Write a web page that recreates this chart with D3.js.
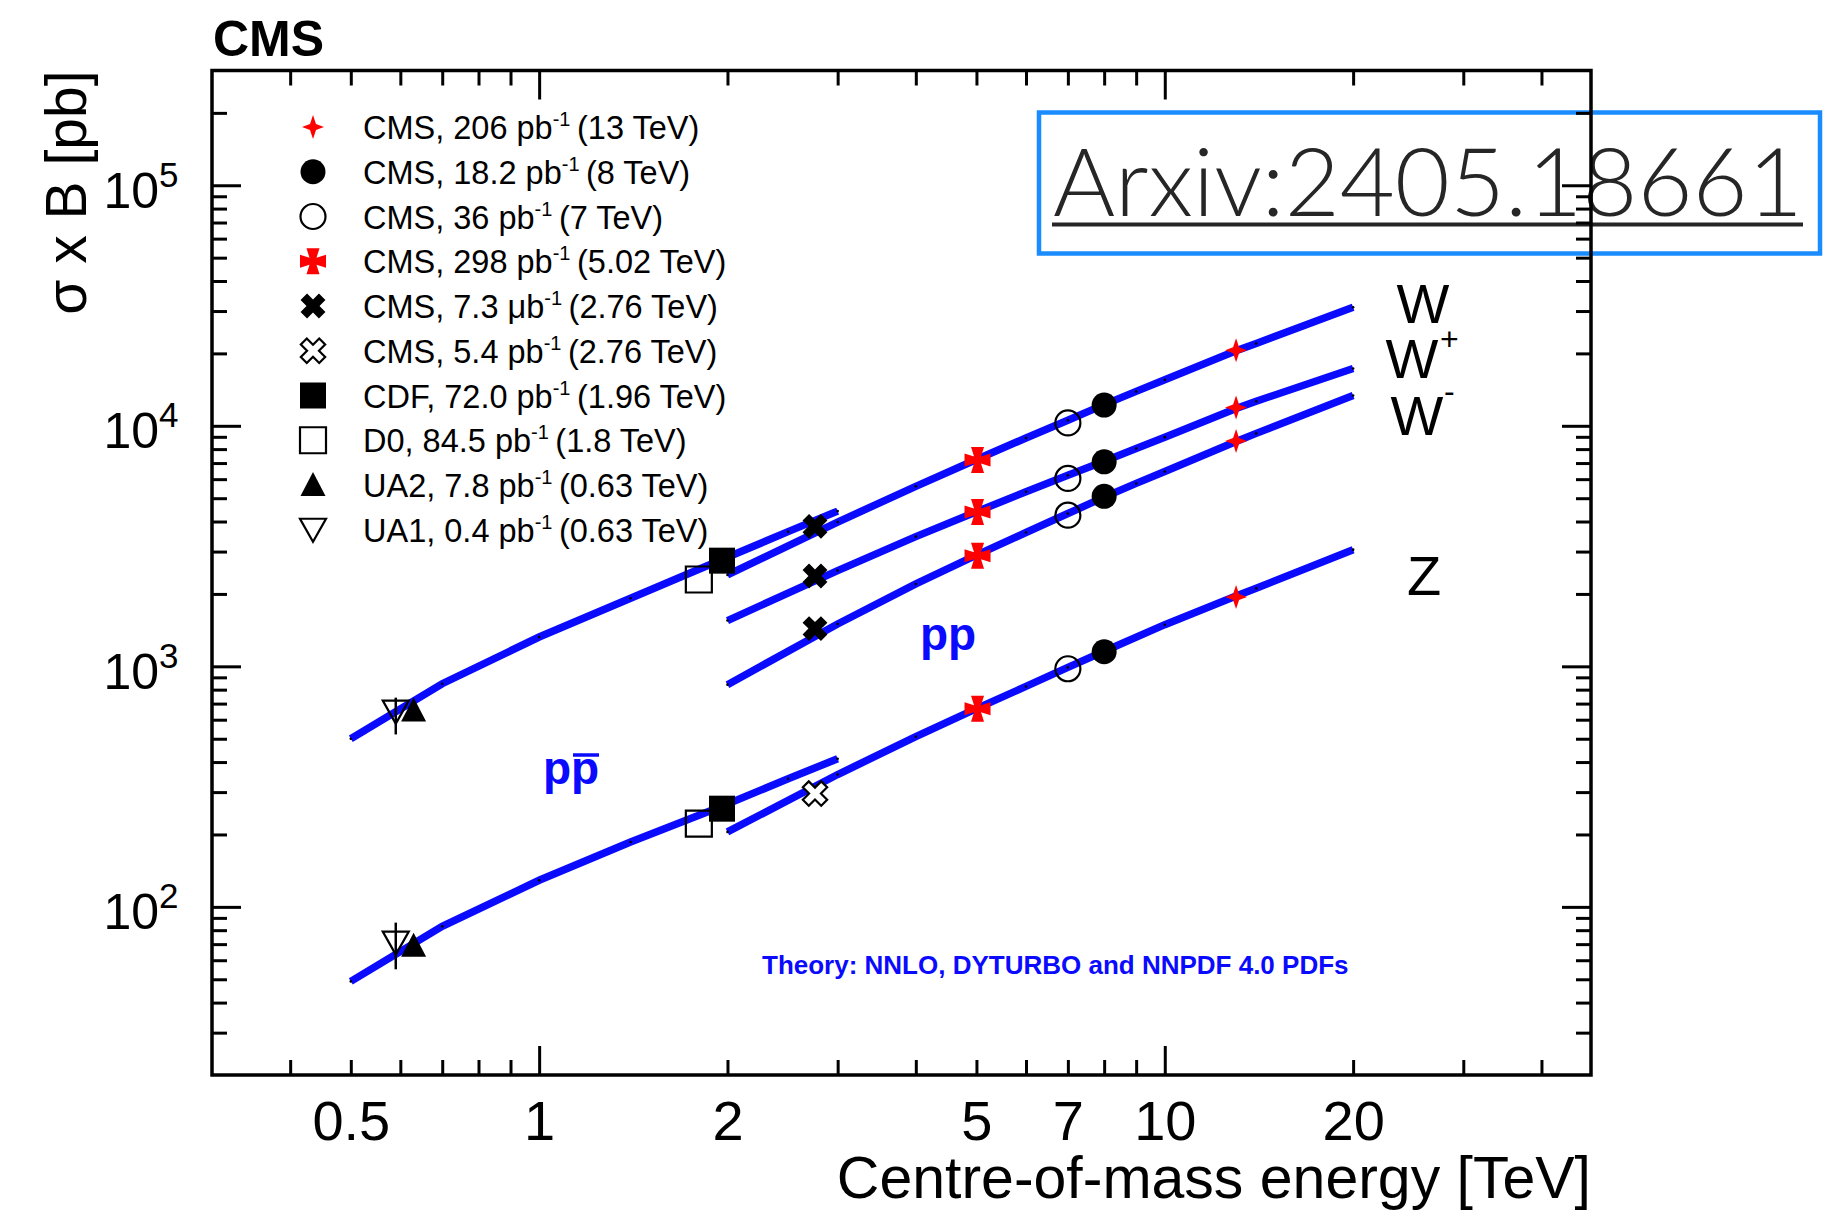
<!DOCTYPE html>
<html>
<head>
<meta charset="utf-8">
<script src="https://cdn.jsdelivr.net/npm/d3@7"></script>
<style>
  body { margin: 0; background: #fff; }
  svg { display: block; font-family: "Liberation Sans", Arial, sans-serif; }
</style>
</head>
<body>
<svg id="chart" width="1845" height="1210"></svg>
<script>
// ---- data ----
const xTickLabels = [0.5, 1, 2, 5, 7, 10, 20];
const yTickLabels = [1e2, 1e3, 1e4, 1e5];

// theory curves (NNLO), p-pbar
const ppbarEnergy = [0.5, 0.7, 1.0, 1.4, 1.96, 2.5, 3.0];
const thW_ppbar = [500, 847, 1324, 1920, 2780, 3630, 4420];
const thZ_ppbar = [49, 83, 129, 186, 262, 341, 413];

// theory curves, pp
const ppEnergy = [2, 3, 4, 5, 6, 7, 8, 9, 10, 13, 14, 20];
const thW_pp = [2400, 3980, 5600, 7240, 8900, 10550, 12250, 13900, 15550, 20500, 22000, 31100];
const thWp_pp = [1550, 2500, 3460, 4390, 5320, 6230, 7130, 8050, 8970, 11800, 12650, 17300];
const thWm_pp = [839, 1500, 2200, 2900, 3600, 4320, 5050, 5760, 6460, 8600, 9300, 13370];
const zEnergy = [2, 3, 4, 5, 6, 7, 8, 10, 13, 14, 20];
const thZ_pp = [205, 355, 510, 667, 825, 990, 1155, 1490, 1960, 2110, 3055];

// measurements (one entry per legend row)
const legendPrefix = ["CMS, 206 pb", "CMS, 18.2 pb", "CMS, 36 pb", "CMS, 298 pb", "CMS, 7.3 \u03BCb",
                      "CMS, 5.4 pb", "CDF, 72.0 pb", "D0, 84.5 pb", "UA2, 7.8 pb", "UA1, 0.4 pb"];
const legendSuffix = ["(13 TeV)", "(8 TeV)", "(7 TeV)", "(5.02 TeV)", "(2.76 TeV)",
                      "(2.76 TeV)", "(1.96 TeV)", "(1.8 TeV)", "(0.63 TeV)", "(0.63 TeV)"];
const measE  = [13, 8, 7, 5.02, 2.76, 2.76, 1.96, 1.8, 0.63, 0.59];
const measW  = [20600, 12190, 10280, 7210, 3820, null, 2750, 2296, 656, 648];
const measWp = [11910, 7080, 6040, 4385, 2375, null, null, null, null, null];
const measWm = [8650, 5090, 4250, 2880, 1435, null, null, null, null, null];
const measZ  = [1940, 1150, 977, 667, null, 296, 256, 222, 69, 71];
const ua1ErrW = [521, 741];
const ua1ErrZ = [55, 86];

// ---- layout ----
const width = 1845, height = 1210;
const frame = { left: 212, right: 1591, top: 70.5, bottom: 1075 };
const blue = "#0a0aff";

const x = d3.scaleLog().domain([0.3, 48]).range([frame.left, frame.right]);
const y = d3.scaleLog().domain([20, 3e5]).range([frame.bottom, frame.top]);

const svg = d3.select("#chart");
svg.append("rect").attr("width", width).attr("height", height).attr("fill", "#fff");

// arXiv stamp
svg.append("rect")
  .attr("x", 1039).attr("y", 112.5).attr("width", 781).attr("height", 141)
  .attr("fill", "none").attr("stroke", "#1a8cff").attr("stroke-width", 4.5);
svg.append("text")
  .attr("x", 1053).attr("y", 216)
  .style("font-family", "Lato, 'Open Sans', sans-serif")
  .style("font-size", "95px").style("font-weight", 300)
  .attr("fill", "#262626")
  .text("Arxiv:2405.18661");
svg.append("line")
  .attr("x1", 1052).attr("x2", 1803).attr("y1", 224.5).attr("y2", 224.5)
  .attr("stroke", "#262626").attr("stroke-width", 4);

// ---- ticks (inward, on all four sides) ----
const isDecade = v => Math.abs(Math.log10(v) - Math.round(Math.log10(v))) < 1e-6;
const xMinor = x.ticks().filter(v => !isDecade(v) && v > 0.3);
const xMajor = x.ticks().filter(isDecade);
const yMinor = y.ticks().filter(v => !isDecade(v) && v > 20 && v < 3e5);

function tickGroup(axisFn, scale, values, size, tr) {
  svg.append("g").attr("transform", tr)
    .call(axisFn(scale).tickValues(values).tickSize(size).tickSizeOuter(0))
    .call(g => g.select(".domain").remove())
    .call(g => g.selectAll("text").remove())
    .call(g => g.selectAll("line").attr("stroke", "#000").attr("stroke-width", 3));
}
tickGroup(d3.axisBottom, x, xMinor, -15, `translate(0,${frame.bottom})`);
tickGroup(d3.axisBottom, x, xMajor, -29, `translate(0,${frame.bottom})`);
tickGroup(d3.axisTop, x, xMinor, -15, `translate(0,${frame.top})`);
tickGroup(d3.axisTop, x, xMajor, -29, `translate(0,${frame.top})`);
tickGroup(d3.axisLeft, y, yMinor, -15, `translate(${frame.left},0)`);
tickGroup(d3.axisLeft, y, yTickLabels, -29, `translate(${frame.left},0)`);
tickGroup(d3.axisRight, y, yMinor, -15, `translate(${frame.right},0)`);
tickGroup(d3.axisRight, y, yTickLabels, -29, `translate(${frame.right},0)`);

svg.append("rect")
  .attr("x", frame.left).attr("y", frame.top)
  .attr("width", frame.right - frame.left).attr("height", frame.bottom - frame.top)
  .attr("fill", "none").attr("stroke", "#000").attr("stroke-width", 3.5);

// x tick labels
svg.append("g").attr("transform", `translate(0,${frame.bottom})`)
  .call(d3.axisBottom(x).tickValues(xTickLabels).tickSize(0).tickPadding(25).tickFormat(d => String(d)))
  .call(g => g.select(".domain").remove())
  .call(g => g.selectAll("text")
    .attr("fill", "#000")
    .style("font-family", "'Liberation Sans', Arial, sans-serif")
    .style("font-size", "56px"));

// y tick labels 10^n
const yLab = svg.append("g").attr("transform", `translate(${frame.left},0)`)
  .call(d3.axisLeft(y).tickValues(yTickLabels).tickSize(0).tickFormat(""))
  .call(g => g.select(".domain").remove());
yLab.selectAll(".tick text").remove();
yLab.selectAll(".tick").append("text")
  .attr("x", -53).attr("y", 22).attr("text-anchor", "end")
  .attr("fill", "#000").style("font-size", "50px")
  .text("10");
yLab.selectAll(".tick").append("text")
  .attr("x", -53).attr("y", 1).attr("text-anchor", "start")
  .attr("fill", "#000").style("font-size", "35px")
  .text(d => Math.round(Math.log10(d)));

// axis titles
svg.append("text")
  .attr("x", frame.right).attr("y", 1198)
  .attr("text-anchor", "end").style("font-size", "59px")
  .text("Centre-of-mass energy [TeV]");
svg.append("text")
  .attr("transform", `translate(86,${frame.top}) rotate(-90)`)
  .attr("text-anchor", "end").style("font-size", "57px")
  .text("\u03C3 x B [pb]");
svg.append("text")
  .attr("x", 213).attr("y", 56)
  .style("font-size", "50px").style("font-weight", "bold")
  .text("CMS");

// ---- theory curves ----
const line = d3.line().x(d => x(d[0])).y(d => y(d[1]));
const curves = [
  [ppbarEnergy, thW_ppbar],
  [ppbarEnergy, thZ_ppbar],
  [ppEnergy, thW_pp],
  [ppEnergy, thWp_pp],
  [ppEnergy, thWm_pp],
  [zEnergy, thZ_pp]
].map(([e, v]) => e.map((d, i) => [d, v[i]]));

svg.append("g").selectAll("path")
  .data(curves).enter().append("path")
  .attr("d", line)
  .attr("fill", "none").attr("stroke", blue).attr("stroke-width", 7.5);

svg.append("g").selectAll("circle")
  .data(curves.flat()).enter().append("circle")
  .attr("cx", d => x(d[0])).attr("cy", d => y(d[1])).attr("r", 1.3)
  .attr("fill", "#000");

// ---- marker shapes ----
const plusPath = (w, l) => `M${-w},${-l}H${w}V${-w}H${l}V${w}H${w}V${l}H${-w}V${w}H${-l}V${-w}H${-w}Z`;
const markerStyle = [
  { d: "M0,-12L3,-3L11,0L3,3L0,12L-3,3L-11,0L-3,-3Z", fill: "#ff0000" },
  { circle: 12.5, fill: "#000" },
  { circle: 12.5, fill: "none", stroke: "#000" },
  { d: "M3.5,-3.5L6.5,-13L-6.5,-13L-3.5,-3.5L-13,-6.5L-13,6.5L-3.5,3.5L-6.5,13L6.5,13L3.5,3.5L13,6.5L13,-6.5Z", fill: "#ff0000" },
  { d: plusPath(4.6, 13), rot: 45, fill: "#000" },
  { d: plusPath(4.2, 13), rot: 45, fill: "#fff", stroke: "#000" },
  { d: "M-13,-13H13V13H-13Z", fill: "#000" },
  { d: "M-13,-13H13V13H-13Z", fill: "none", stroke: "#000" },
  { d: "M0,-13L12.5,11L-12.5,11Z", fill: "#000" },
  { d: "M-13,-11H13L0,12Z", fill: "none", stroke: "#000" }
];

function drawMarker(parent, k, cx, cy) {
  const s = markerStyle[k];
  const g = parent.append("g").attr("transform", `translate(${cx},${cy})`);
  const el = s.circle ? g.append("circle").attr("r", s.circle)
                      : g.append("path").attr("d", s.d).attr("transform", s.rot ? `rotate(${s.rot})` : null);
  el.attr("fill", s.fill)
    .attr("stroke", s.stroke || "none")
    .attr("stroke-width", s.stroke ? 2.2 : 0);
}

// measurements, drawn from low to high energy so that overlaps match
const markers = svg.append("g");
[[measW[9], ua1ErrW], [measZ[9], ua1ErrZ]].forEach(([v, err]) => {
  markers.append("line")
    .attr("x1", x(measE[9])).attr("x2", x(measE[9]))
    .attr("y1", y(err[0])).attr("y2", y(err[1]))
    .attr("stroke", "#000").attr("stroke-width", 2.5);
});
d3.range(measE.length - 1, -1, -1).forEach(i => {
  [measW, measWp, measWm, measZ].forEach(series => {
    if (series[i] != null) drawMarker(markers, i, x(measE[i]), y(series[i]));
  });
});

// ---- legend ----
const legend = svg.append("g");
legendPrefix.forEach((txt, i) => {
  const ly = 127 + i * 44.75;
  drawMarker(legend, i, 313, ly);
  const t = legend.append("text")
    .attr("x", 363).attr("y", ly + 12)
    .attr("fill", "#000").style("font-size", "32.5px");
  t.append("tspan").text(txt);
  t.append("tspan").attr("dy", -13).style("font-size", "20px").text("-1");
  t.append("tspan").attr("dy", 13).text("\u2009" + legendSuffix[i]);
});

// ---- curve labels ----
const lab = svg.append("g").attr("fill", "#000");
lab.append("text").attr("x", 1423).attr("y", 323).attr("text-anchor", "middle").style("font-size", "56px").text("W");
lab.append("text").attr("x", 1412).attr("y", 378).attr("text-anchor", "middle").style("font-size", "56px").text("W");
lab.append("text").attr("x", 1440).attr("y", 350).style("font-size", "32px").text("+");
lab.append("text").attr("x", 1417).attr("y", 435).attr("text-anchor", "middle").style("font-size", "56px").text("W");
lab.append("text").attr("x", 1444).attr("y", 402).style("font-size", "32px").text("-");
lab.append("text").attr("x", 1424).attr("y", 595).attr("text-anchor", "middle").style("font-size", "56px").text("Z");

const pp = svg.append("g").attr("fill", blue).style("font-weight", "bold").style("font-size", "46px");
pp.append("text").attr("x", 920).attr("y", 650).text("pp");
pp.append("text").attr("x", 543).attr("y", 784).text("pp");
svg.append("line")
  .attr("x1", 573).attr("x2", 599).attr("y1", 755).attr("y2", 755)
  .attr("stroke", blue).attr("stroke-width", 3.5);

svg.append("text")
  .attr("x", 762).attr("y", 974)
  .attr("fill", blue).style("font-weight", "bold").style("font-size", "26px")
  .text("Theory: NNLO, DYTURBO and NNPDF 4.0 PDFs");
</script>
</body>
</html>
